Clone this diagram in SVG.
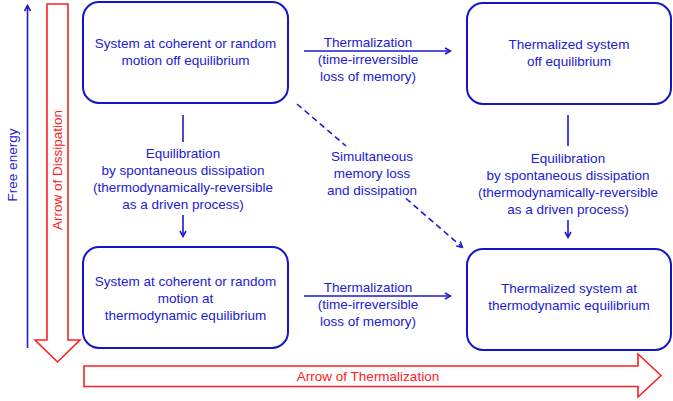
<svg xmlns="http://www.w3.org/2000/svg" width="673" height="401" viewBox="0 0 673 401">
<defs>
<marker id="ah" markerWidth="8" markerHeight="8" refX="6" refY="4" orient="auto" markerUnits="userSpaceOnUse">
<path d="M1,1 L6.5,4 L1,7" fill="none" stroke="#1c1cd0" stroke-width="1.6"/>
</marker>
</defs>
<style>
.box{fill:#fff;stroke:#1414c8;stroke-width:2}
.t{font-family:"Liberation Sans",Arial,sans-serif;font-size:13.5px;fill:#2020d4;text-anchor:middle}
.r{font-family:"Liberation Sans",Arial,sans-serif;font-size:13.5px;fill:#ff2020;text-anchor:middle}
.c{fill:none;stroke:#1c1cd0;stroke-width:1.6}
.big{fill:#fff;stroke:#ff2020;stroke-width:1.6}
</style>
<rect width="673" height="401" fill="#fff"/>
<g id="axes">
<line class="c" x1="27.5" y1="348" x2="27.5" y2="6" marker-end="url(#ah)"/>
<text class="t" transform="translate(16.5,165) rotate(-90)">Free energy</text>
<polygon class="big" points="47,4 68,4 68,340 80,340 57.5,362 35,340 47,340"/>
<text class="r" transform="translate(62,170) rotate(-90)">Arrow of Dissipation</text>
<polygon class="big" points="84,366 638,366 638,354 661,375.5 638,397 638,386.5 84,386.5"/>
<text class="r" x="368" y="380.5">Arrow of Thermalization</text>
</g>
<g id="connectors">
<line class="c" x1="304" y1="51" x2="450" y2="51" marker-end="url(#ah)"/>
<text class="t" x="368" y="47">Thermalization</text>
<text class="t" x="368" y="64">(time-irreversible</text>
<text class="t" x="368" y="80.5">loss of memory)</text>
<line class="c" x1="304" y1="296" x2="450" y2="296" marker-end="url(#ah)"/>
<text class="t" x="368" y="292">Thermalization</text>
<text class="t" x="368" y="308.5">(time-irreversible</text>
<text class="t" x="368" y="325.5">loss of memory)</text>
<line class="c" x1="183" y1="115" x2="183" y2="142"/>
<line class="c" x1="183" y1="215" x2="183" y2="236" marker-end="url(#ah)"/>
<text class="t" x="183" y="158">Equilibration</text>
<text class="t" x="183" y="175">by spontaneous dissipation</text>
<text class="t" x="183" y="192">(thermodynamically-reversible</text>
<text class="t" x="183" y="209">as a driven process)</text>
<line class="c" x1="568" y1="115" x2="568" y2="146"/>
<line class="c" x1="568" y1="220" x2="568" y2="237" marker-end="url(#ah)"/>
<text class="t" x="568" y="163">Equilibration</text>
<text class="t" x="568" y="180">by spontaneous dissipation</text>
<text class="t" x="568" y="196.5">(thermodynamically-reversible</text>
<text class="t" x="568" y="213.5">as a driven process)</text>
<line class="c" x1="297" y1="104" x2="346" y2="146" stroke-dasharray="6,4"/>
<line class="c" x1="406" y1="198.5" x2="462" y2="247" stroke-dasharray="6,4" marker-end="url(#ah)"/>
<text class="t" x="372" y="161">Simultaneous</text>
<text class="t" x="372" y="178">memory loss</text>
<text class="t" x="372" y="194.5">and dissipation</text>
</g>
<g id="n1">
<rect class="box" x="83" y="2" width="205" height="101" rx="16"/>
<text class="t" x="185.5" y="48">System at coherent or random</text>
<text class="t" x="185.5" y="65">motion off equilibrium</text>
</g>
<g id="n2">
<rect class="box" x="467" y="3" width="204" height="101" rx="16"/>
<text class="t" x="569" y="49">Thermalized system</text>
<text class="t" x="569" y="66">off equilibrium</text>
</g>
<g id="n3">
<rect class="box" x="83" y="247" width="205" height="101" rx="16"/>
<text class="t" x="185.5" y="286">System at coherent or random</text>
<text class="t" x="185.5" y="303">motion at</text>
<text class="t" x="185.5" y="319.5">thermodynamic equilibrium</text>
</g>
<g id="n4">
<rect class="box" x="467" y="249" width="204" height="101" rx="16"/>
<text class="t" x="569" y="293">Thermalized system at</text>
<text class="t" x="569" y="309.5">thermodynamic equilibrium</text>
</g>
</svg>
